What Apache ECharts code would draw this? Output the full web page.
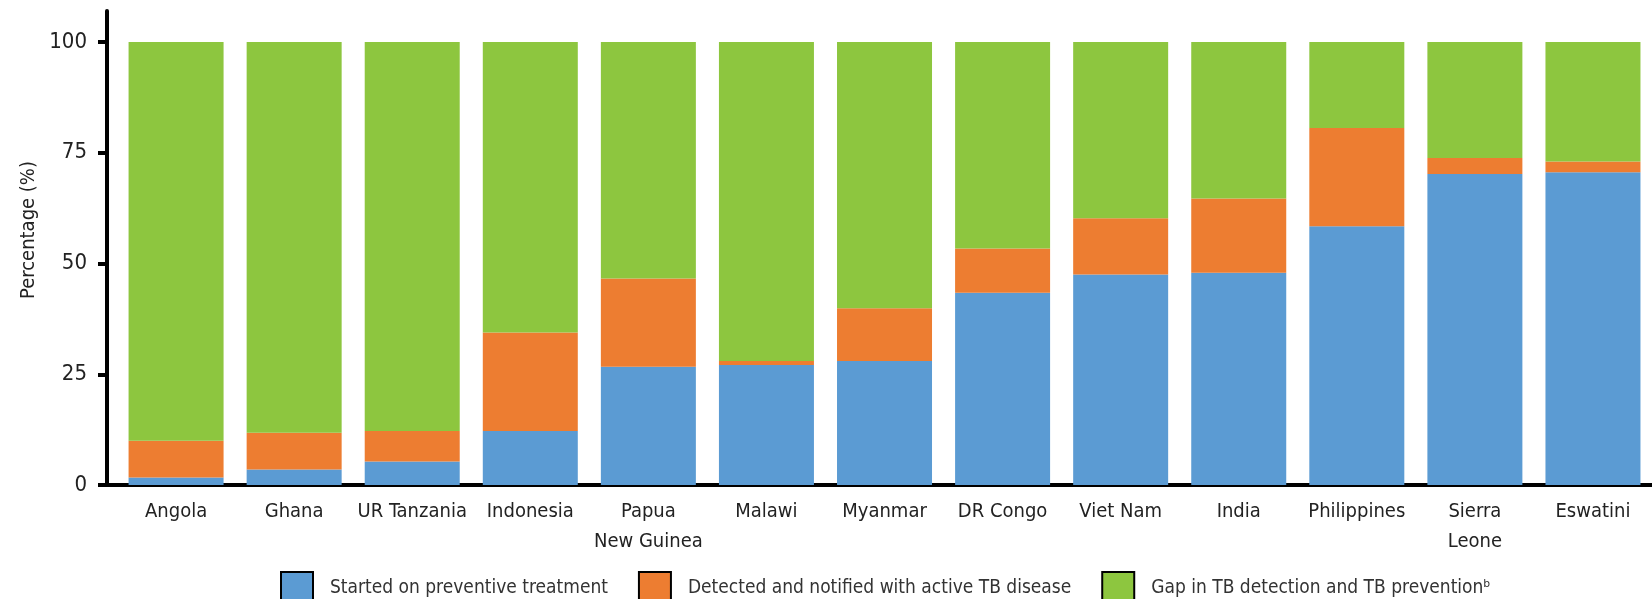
<!DOCTYPE html>
<html>
<head>
<meta charset="utf-8">
<title>TB preventive treatment</title>
<script src="https://cdn.jsdelivr.net/npm/echarts@6/dist/echarts.min.js"></script>
<style>
  html, body { margin: 0; padding: 0; background: #fff; }
  #chart { width: 1652px; height: 599px; }
</style>
</head>
<body>
<div id="chart"></div>
<script>
const categories = ['Angola', 'Ghana', 'UR Tanzania', 'Indonesia', 'Papua\nNew Guinea', 'Malawi',
  'Myanmar', 'DR Congo', 'Viet Nam', 'India', 'Philippines', 'Sierra\nLeone', 'Eswatini']
// 各段的百分比
const started = [1.7, 3.5, 5.3, 12.2, 26.7, 27.1, 28.0, 43.4, 47.5, 47.9, 58.4, 70.2, 70.6]
const detected = [8.3, 8.3, 6.9, 22.2, 19.9, 0.9, 11.9, 10.0, 12.7, 16.8, 22.2, 3.6, 2.4]
const gap = [90.0, 88.2, 87.8, 65.6, 53.4, 72.0, 60.1, 46.6, 39.8, 35.3, 19.4, 26.2, 27.0]
const yTicks = [0, 25, 50, 75, 100]

const seriesNames = [
  'Started on preventive treatment',
  'Detected and notified with active TB disease',
  'Gap in TB detection and TB prevention\u1D47'
]
const colors = ['#5B9BD3', '#ED7D31', '#8DC63F']
const font = "'Liberation Sans Narrow', 'DejaVu Sans Condensed', 'Arial Narrow', sans-serif"

const chart = echarts.init(document.getElementById('chart'))
const idx = categories.map((c, i) => i)

// 数值放在第0维，这样堆叠按y方向计算
const makeSeries = (name, values, i) => ({
  name: name,
  type: 'bar',
  stack: 'total',
  barWidth: 95,
  encode: { x: 1, y: 0 },
  itemStyle: { color: colors[i] },
  data: values.map((v, k) => [v, k])
})

chart.setOption({
  animation: false,
  textStyle: { fontFamily: font },
  color: colors,
  grid: { left: 107, right: 0, top: 11, bottom: 114 },
  xAxis: {
    type: 'value',
    min: -0.585,
    max: 12.5,
    splitLine: { show: false },
    axisTick: { show: false },
    axisLine: { show: true, onZero: false, lineStyle: { color: '#000', width: 4 } },
    axisLabel: {
      customValues: idx,
      formatter: v => categories[Math.round(v)],
      fontFamily: font,
      fontSize: 20,
      lineHeight: 30,
      margin: 12,
      color: '#222'
    }
  },
  yAxis: {
    type: 'value',
    min: 0,
    max: 107,
    name: 'Percentage (%)',
    nameLocation: 'middle',
    nameRotate: 90,
    nameGap: 66,
    nameTextStyle: { fontFamily: font, fontSize: 20, color: '#222', padding: [0, 0, 0, 36] },
    splitLine: { show: false },
    axisLine: { show: true, onZero: false, lineStyle: { color: '#000', width: 4 } },
    axisTick: { show: true, customValues: yTicks, length: 9, lineStyle: { color: '#000', width: 4 } },
    axisLabel: { customValues: yTicks, fontFamily: font, fontSize: 22, color: '#222', margin: 20 }
  },
  legend: {
    left: 275,
    top: 566,
    itemWidth: 32,
    itemHeight: 32,
    itemGap: 30,
    icon: 'rect',
    itemStyle: { borderColor: '#000', borderWidth: 2 },
    textStyle: { fontFamily: font, fontSize: 19, color: '#333', padding: [0, 0, 0, 12] },
    data: seriesNames
  },
  series: [
    makeSeries(seriesNames[0], started, 0),
    makeSeries(seriesNames[1], detected, 1),
    makeSeries(seriesNames[2], gap, 2)
  ]
})
</script>
</body>
</html>
